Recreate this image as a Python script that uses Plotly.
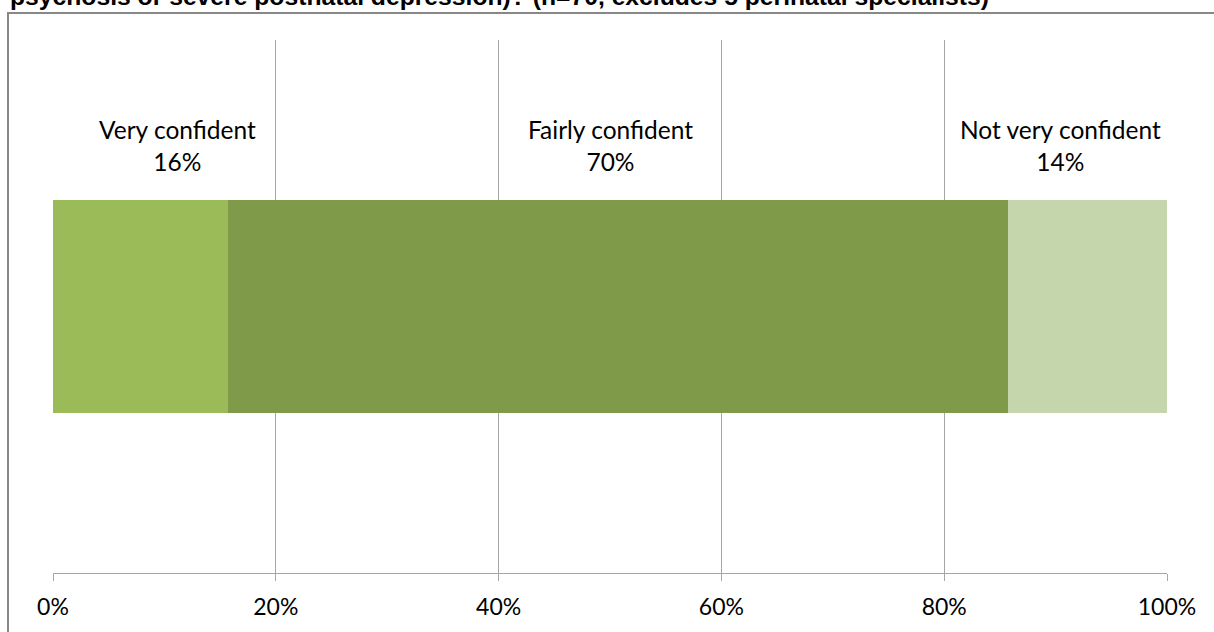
import plotly.graph_objects as go

categories = ["Very confident", "Fairly confident", "Not very confident"]
values = [15.7, 70.0, 14.3]
value_labels = ["16%", "70%", "14%"]
label_x = [11.2, 50.0, 90.4]
colors = ["#9BBB59", "#7F9A48", "#C6D6AC"]
tick_vals = [0, 20, 40, 60, 80, 100]
tick_text = ["0%", "20%", "40%", "60%", "80%", "100%"]
title_text = "psychosis or severe postnatal depression)? (n=70, excludes 5 perinatal specialists)"

W, H = 1214, 632
L, R, T, B = 53, 47, 40, 59
pw, ph = W - L - R, H - T - B

fig = go.Figure()
for c, v, col in zip(categories, values, colors):
    fig.add_trace(go.Bar(y=["Q"], x=[v], name=c, orientation="h",
                         marker=dict(color=col, line=dict(width=0)),
                         width=0.398, hoverinfo="skip"))

for c, vl, lx in zip(categories, value_labels, label_x):
    fig.add_annotation(x=lx, xref="x", yref="paper",
                       y=(H - B - 145) / ph,
                       text=f"{c}<br>{vl}", showarrow=False,
                       xanchor="center", yanchor="middle",
                       font=dict(family="Lato, Open Sans, sans-serif", size=24.5, color="#000000"))

fig.add_annotation(x=(8 - L) / pw, y=(H - B - 12) / ph, xref="paper", yref="paper",
                   xanchor="left", yanchor="bottom", showarrow=False,
                   text=f"<b>{title_text}</b>",
                   font=dict(family="Liberation Sans, Arial, sans-serif", size=24.7, color="#000000"))

fig.add_shape(type="rect", xref="paper", yref="paper",
              x0=(8 - L) / pw, x1=1.2, y0=-0.3, y1=(H - B - 13) / ph,
              line=dict(color="#888888", width=2), fillcolor="rgba(0,0,0,0)", layer="below")

fig.update_layout(
    width=W, height=H, barmode="stack", showlegend=False,
    margin=dict(l=L, r=R, t=T, b=B, autoexpand=False),
    plot_bgcolor="white", paper_bgcolor="white",
    xaxis=dict(range=[0, 100], tickvals=tick_vals, ticktext=tick_text,
               showgrid=True, gridcolor="#A6A6A6", gridwidth=1,
               showline=True, linecolor="#A6A6A6", linewidth=1,
               ticks="outside", ticklen=7, tickcolor="#A6A6A6",
               ticklabelstandoff=6, automargin=False,
               tickfont=dict(family="Lato, Open Sans, sans-serif", size=23, color="#000000"),
               zeroline=False, fixedrange=True),
    yaxis=dict(showticklabels=False, showgrid=False, zeroline=False,
               range=[-0.5, 0.5], fixedrange=True, automargin=False),
)

fig.write_html("out.html")
